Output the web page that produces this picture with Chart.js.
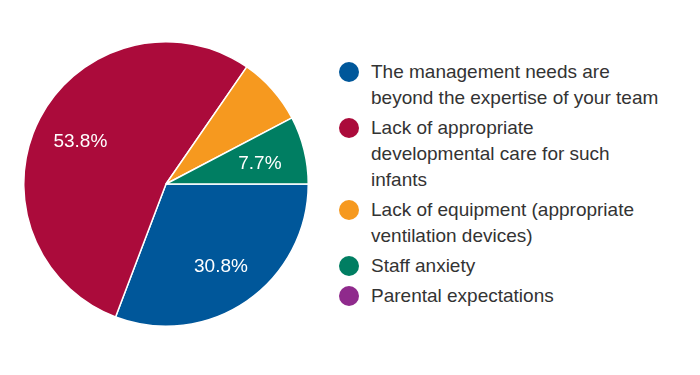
<!DOCTYPE html>
<html>
<head>
<meta charset="utf-8">
<script src="https://cdn.jsdelivr.net/npm/chart.js@4"></script>
<style>
  body { margin: 0; background: #fff; font-family: "Liberation Sans", Arial, sans-serif; }
  #wrap { position: relative; width: 700px; height: 375px; overflow: hidden; }
  #pieBox { position: absolute; left: 23px; top: 41px; width: 286px; height: 286px; }
  #legend { position: absolute; left: 339px; top: 59px; list-style: none; margin: 0; padding: 0; }
  #legend li { position: relative; padding-left: 32px; font-size: 19px; line-height: 26px; color: #333; margin-bottom: 4px; }
  #legend li span.dot { position: absolute; left: 0; top: 3px; width: 20px; height: 20px; border-radius: 50%; }
</style>
</head>
<body>
<div id="wrap">
  <div id="pieBox"><canvas id="pieChart"></canvas></div>
  <ul id="legend"></ul>
</div>
<script>
const labels = [
    ['The management needs are', 'beyond the expertise of your team'],
    ['Lack of appropriate', 'developmental care for such', 'infants'],
    ['Lack of equipment (appropriate', 'ventilation devices)'],
    ['Staff anxiety'],
    ['Parental expectations']
];
const counts = [4, 7, 1, 1, 0];
const colors = ['#00579a', '#ab0b3b', '#f6991f', '#007e62', '#8f2a8c'];

// legend on the right, built from the same arrays
const legendEl = document.getElementById('legend');
labels.forEach((lines, i) => {
    const li = document.createElement('li');
    li.innerHTML = '<span class="dot" style="background:' + colors[i] + '"></span>' + lines.join('<br>');
    legendEl.appendChild(li);
});

// percentage labels inside slices (the orange one has none in the original)
const sliceLabels = {
    id: 'sliceLabels',
    afterDatasetsDraw(chart) {
        const ctx = chart.ctx;
        const meta = chart.getDatasetMeta(0);
        const total = counts.reduce((a, b) => a + b, 0);
        ctx.save();
        ctx.fillStyle = '#fff';
        ctx.font = '19px "Liberation Sans", Arial, sans-serif';
        ctx.textAlign = 'center';
        ctx.textBaseline = 'middle';
        meta.data.forEach((arc, i) => {
            if (!counts[i] || i === 2) return;
            const p = arc.getProps(['x', 'y', 'startAngle', 'endAngle', 'outerRadius'], true);
            const mid = (p.startAngle + p.endAngle) / 2;
            const r = p.outerRadius * 0.68;
            const pct = (counts[i] / total * 100).toFixed(1) + '%';
            ctx.fillText(pct, p.x + Math.cos(mid) * r, p.y + Math.sin(mid) * r + 3);
        });
        ctx.restore();
    }
};

new Chart(document.getElementById('pieChart'), {
    type: 'pie',
    data: {
        labels: labels.map(l => l.join(' ')),
        datasets: [{
            data: counts,
            backgroundColor: colors,
            borderColor: '#fff',
            borderWidth: 1.5,
            hoverOffset: 0
        }]
    },
    options: {
        responsive: true,
        maintainAspectRatio: false,
        animation: false,
        rotation: 90,
        plugins: {
            legend: { display: false },
            tooltip: { enabled: false }
        }
    },
    plugins: [sliceLabels]
});
</script>
</body>
</html>
